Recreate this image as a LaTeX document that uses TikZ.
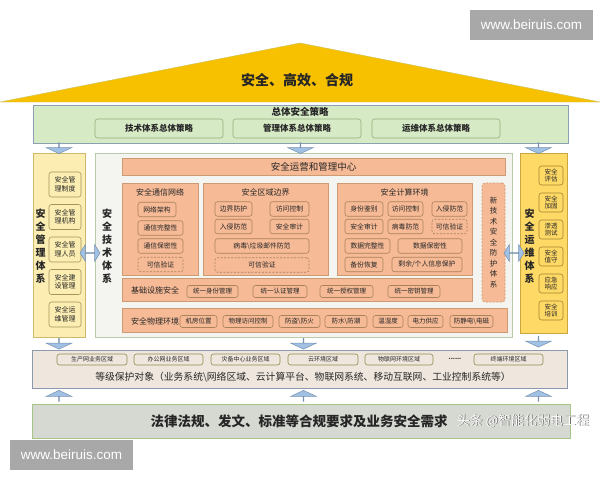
\documentclass[tikz,border=0pt]{standalone}
\usepackage{fontspec}
\setmainfont{Noto Sans CJK SC}
\newfontfamily\wmfont{Liberation Sans}
\usepackage{xcolor}
\usepackage{tikz}
\usetikzlibrary{shapes.arrows,positioning,calc}

\definecolor{roofgold}{RGB}{247,193,0}
\definecolor{stratfill}{RGB}{214,234,198}
\definecolor{stratline}{RGB}{140,160,180}
\definecolor{stratsub}{RGB}{147,176,122}
\definecolor{mgmtfill}{RGB}{252,238,178}
\definecolor{mgmtline}{RGB}{205,185,110}
\definecolor{techfill}{RGB}{244,244,240}
\definecolor{techline}{RGB}{185,203,169}
\definecolor{orfill}{RGB}{246,186,150}
\definecolor{orline}{RGB}{205,155,115}
\definecolor{orsub}{RGB}{170,130,90}
\definecolor{opsfill}{RGB}{255,217,102}
\definecolor{opsline}{RGB}{200,168,60}
\definecolor{arrfill}{RGB}{160,193,228}
\definecolor{arrline}{RGB}{120,145,175}
\definecolor{objfill}{RGB}{239,231,222}
\definecolor{objline}{RGB}{140,152,176}
\definecolor{lawfill}{RGB}{214,217,210}
\definecolor{lawline}{RGB}{165,196,135}
\definecolor{wmgrey}{RGB}{168,168,168}

\begin{document}
\begin{tikzpicture}[x=1pt,y=-1pt,
                    every node/.style={inner sep=0pt,text=black!85},
                    frame/.style={draw,line width=0.8pt},
                    sub/.style={draw,rounded corners=2.5pt,line width=0.6pt,align=center},
                    vlabel/.style={align=center,font=\bfseries\fontsize{10}{13}\selectfont},
                    stratbox/.style={sub,draw=stratsub,fill=stratfill,minimum width=128pt,
                                     minimum height=19pt,font=\bfseries\fontsize{8.5}{9}\selectfont},
                    msub/.style={sub,draw=mgmtline!80!black,fill=mgmtfill,minimum width=32pt,
                                 minimum height=25pt,node distance=32.5pt,font=\fontsize{7}{8.5}\selectfont},
                    rsub/.style={sub,draw=opsline!80!black,fill=opsfill,minimum width=24pt,
                                 minimum height=19pt,node distance=27pt,font=\fontsize{6.5}{7.5}\selectfont},
                    orbar/.style={draw=orline,fill=orfill,line width=0.6pt},
                    dtitle/.style={font=\fontsize{8}{9}\selectfont},
                    osub/.style={sub,draw=orsub,fill=orfill,minimum height=14.5pt,font=\fontsize{6.8}{7}\selectfont},
                    dsub/.style={osub,dash pattern=on 2pt off 1.5pt},
                    isub/.style={osub,minimum height=12pt,font=\fontsize{6.5}{7}\selectfont},
                    gsub/.style={sub,draw=olive!45!gray,fill=objfill,minimum height=11pt,font=\fontsize{6}{6.5}\selectfont},
                    wmbox/.style={fill=wmgrey,text=white,minimum width=123pt,minimum height=30pt,
                                  font=\wmfont\fontsize{13.5}{14}\selectfont},
                    downarr/.style={single arrow,shape border rotate=270,draw=arrline,fill=arrfill,line width=0.5pt,
                                    minimum height=11pt,minimum width=26pt,single arrow head extend=7pt,
                                    single arrow tip angle=130},
                    uparr/.style={downarr,shape border rotate=90},
                    dblarr/.style={double arrow,draw=arrline,fill=arrfill,line width=0.5pt,
                                   minimum height=20pt,minimum width=17pt,double arrow head extend=4.5pt,
                                   double arrow tip angle=115}]
  \useasboundingbox (0,0) rectangle (600,480);

  \fill[roofgold,draw=olive!50,line width=0.4pt] (0,102) -- (300,43) -- (600,102) -- cycle;
  \node[font=\bfseries\fontsize{14}{14}\selectfont] (goal) at (297,80) {安全、高效、合规};

  \node[frame,draw=stratline,fill=stratfill,minimum width=535pt,minimum height=38pt] (strat) at (300.5,124) {};
  \node[font=\bfseries\fontsize{9.5}{10}\selectfont] (stratT) at (300,112) {总体安全策略};
  \node[stratbox] (s1) at (159,128.5) {技术体系总体策略};
  \node[stratbox] (s2) at (297,128.5) {管理体系总体策略};
  \node[stratbox] (s3) at (436,128.5) {运维体系总体策略};

  \node[frame,draw=mgmtline,fill=mgmtfill,minimum width=52pt,minimum height=184pt] (mgmt) at (59,245) {};
  \node[vlabel] (mgmtT) at (40.5,246) {安\\全\\管\\理\\体\\系};
  \node[msub]                (m1) at (65,184.5) {安全管\\理制度};
  \node[msub,below of=m1]    (m2) {安全管\\理机构};
  \node[msub,below of=m2]    (m3) {安全管\\理人员};
  \node[msub,below of=m3]    (m4) {安全建\\设管理};
  \node[msub,below of=m4]    (m5) {安全运\\维管理};

  \node[frame,draw=techline,fill=techfill,minimum width=417pt,minimum height=184pt] (tech) at (303.5,245) {};
  \node[vlabel] (techT) at (107,246) {安\\全\\技\\术\\体\\系};
  \node[orbar,minimum width=383pt,minimum height=17pt,font=\fontsize{9.5}{10}\selectfont] (soc) at (313.5,166.5) {安全运营和管理中心};

  \node[orbar,minimum width=76pt,minimum height=92pt] (comm) at (160,229) {};
  \node[dtitle] (commT) at (160,192) {安全通信网络};
  \node[osub,minimum width=38pt] (c1) at (157,209.5) {网络架构};
  \node[osub,minimum width=45pt] (c2) at (160.5,228) {通信完整性};
  \node[osub,minimum width=45pt] (c3) at (160.5,246) {通信保密性};
  \node[dsub,minimum width=45pt] (c4) at (160.5,264.5) {可信验证};

  \node[orbar,minimum width=125pt,minimum height=92pt] (zone) at (265.5,229) {};
  \node[dtitle] (zoneT) at (265.5,192) {安全区域边界};
  \node[osub,minimum width=37pt] (z1) at (233.5,209) {边界防护};
  \node[osub,minimum width=39pt] (z2) at (289.5,209) {访问控制};
  \node[osub,minimum width=37pt] (z3) at (233.5,226.5) {入侵防范};
  \node[osub,minimum width=39pt] (z4) at (289.5,226.5) {安全审计};
  \node[osub,minimum width=94pt] (z5) at (262,246) {病毒\textbackslash 垃圾邮件防范};
  \node[dsub,minimum width=94pt] (z6) at (262,265) {可信验证};

  \node[orbar,minimum width=135pt,minimum height=92pt] (comp) at (404.5,229) {};
  \node[dtitle] (compT) at (404.5,192) {安全计算环境};
  \node[osub,minimum width=38pt] (p1) at (364,209) {身份鉴别};
  \node[osub,minimum width=35pt] (p2) at (405.5,209) {访问控制};
  \node[osub,minimum width=35pt] (p3) at (449.5,209) {入侵防范};
  \node[osub,minimum width=38pt] (p4) at (364,226.5) {安全审计};
  \node[osub,minimum width=35pt] (p5) at (405.5,226.5) {病毒防范};
  \node[dsub,minimum width=35pt] (p6) at (449.5,226.5) {可信验证};
  \node[osub,minimum width=45pt] (p7) at (367.5,246) {数据完整性};
  \node[osub,minimum width=64pt] (p8) at (430,246) {数据保密性};
  \node[osub,minimum width=38pt] (p9) at (364,264.5) {备份恢复};
  \node[osub,minimum width=70pt] (p10) at (427,264.5) {剩余/个人信息保护};

  \node[orbar,dash pattern=on 2pt off 1.5pt,rounded corners=3pt,minimum width=23pt,minimum height=119pt,
        align=center,font=\fontsize{7.5}{10.5}\selectfont] (newtech) at (493.5,242.5) {新\\技\\术\\安\\全\\防\\护\\体\\系};

  \node[orbar,minimum width=350pt,minimum height=23pt] (infra) at (297,289.5) {};
  \node[dtitle] (infraT) at (155,290) {基础设施安全};
  \node[isub,minimum width=51pt] (i1) at (212.5,291.5) {统一身份管理};
  \node[isub,minimum width=54pt] (i2) at (280,291.5) {统一认证管理};
  \node[isub,minimum width=53pt] (i3) at (346.5,291.5) {统一授权管理};
  \node[isub,minimum width=52pt] (i4) at (414,291.5) {统一密钥管理};

  \node[orbar,minimum width=385pt,minimum height=24pt] (phys) at (314.5,320) {};
  \node[dtitle] (physT) at (155,321) {安全物理环境};
  \node[isub,minimum width=37pt] (f1) at (198.5,321.5) {机房位置};
  \node[isub,minimum width=50pt] (f2) at (248,321.5) {物理访问控制};
  \node[isub,minimum width=41pt] (f3) at (299.5,321.5) {防盗\textbackslash 防火};
  \node[isub,minimum width=42pt] (f4) at (346,321.5) {防水\textbackslash 防潮};
  \node[isub,minimum width=30pt] (f5) at (388,321.5) {温湿度};
  \node[isub,minimum width=35pt] (f6) at (425.5,321.5) {电力供应};
  \node[isub,minimum width=43pt] (f7) at (471.5,321.5) {防静电\textbackslash 电磁};

  \node[frame,draw=opsline,fill=opsfill,minimum width=47pt,minimum height=180pt] (ops) at (543.5,243) {};
  \node[vlabel] (opsT) at (529.5,246) {安\\全\\运\\维\\体\\系};
  \node[rsub]                (r1) at (551,175.5) {安全\\评估};
  \node[rsub,below of=r1]    (r2) {安全\\加固};
  \node[rsub,below of=r2]    (r3) {渗透\\测试};
  \node[rsub,below of=r3]    (r4) {安全\\值守};
  \node[rsub,below of=r4]    (r5) {应急\\响应};
  \node[rsub,below of=r5]    (r6) {安全\\培训};

  \node[frame,draw=objline,fill=objfill,minimum width=535pt,minimum height=38pt] (objs) at (299.5,369) {};
  \node[gsub,minimum width=70pt] (g1) at (92,359.5) {生产网业务区域};
  \node[gsub,minimum width=69pt] (g2) at (168.5,359.5) {办公网业务区域};
  \node[gsub,minimum width=69pt] (g3) at (245.5,359.5) {灾备中心业务区域};
  \node[gsub,minimum width=70pt] (g4) at (323,359.5) {云环境区域};
  \node[gsub,minimum width=68pt] (g5) at (399,359.5) {物联网环境区域};
  \node[font=\bfseries\fontsize{6}{6}\selectfont] (gdots) at (455,359) {......};
  \node[gsub,minimum width=69pt] (g6) at (508.5,359.5) {终端环境区域};
  \node[font=\fontsize{9.8}{10}\selectfont] (objsT) at (303,377)
       {等级保护对象（业务系统\textbackslash 网络区域、云计算平台、物联网系统、移动互联网、工业控制系统等）};

  \node[frame,draw=lawline,fill=lawfill,minimum width=538pt,minimum height=34pt] (law) at (301,421) {};
  \node[font=\bfseries\fontsize{13.5}{14}\selectfont] (lawT) at (299,421) {法律法规、发文、标准等合规要求及业务安全需求};
  \node[font=\fontsize{13}{13}\selectfont,text=black!65] (wm3s) at (523.8,421.6) {头条 @智能化弱电工程};
  \node[font=\fontsize{13}{13}\selectfont,text=white] (wm3) at (523,421) {头条 @智能化弱电工程};

  \node[wmbox] (wm1) at (531.5,25) {www.beiruis.com};
  \node[wmbox] (wm2) at (71.5,454.5) {www.beiruis.com};

  \node[downarr] (a1) at ($(strat.south -| mgmt.north)!.5!(mgmt.north)$) {};
  \node[downarr] (a2) at ($(strat.south)!.5!(strat.south |- tech.north)$) {};
  \node[downarr,xshift=-5pt] (a3) at ($(strat.south -| ops.north)!.5!(ops.north)$) {};
  \node[downarr] (a4) at ($(mgmt.south)!.5!(mgmt.south |- objs.north)$) {};
  \node[downarr] (a5) at ($(tech.south)!.5!(tech.south |- objs.north)$) {};
  \node[downarr,xshift=-5pt] (a6) at ($(ops.south)!.5!(ops.south |- objs.north)$) {};
  \node[uparr] (a7) at ($(law.north -| mgmt.south)!.5!(objs.south -| mgmt.south)$) {};
  \node[uparr] (a8) at ($(law.north -| tech.south)!.5!(objs.south -| tech.south)$) {};
  \node[uparr,xshift=-5pt] (a9) at ($(law.north -| ops.south)!.5!(objs.south -| ops.south)$) {};
  \node[dblarr] (d1) at ($(mgmt.east)!.5!(tech.west)+(0,8)$) {};
  \node[dblarr] (d2) at ($(tech.east)!.5!(ops.west)+(-2,9)$) {};
\end{tikzpicture}
\end{document}
